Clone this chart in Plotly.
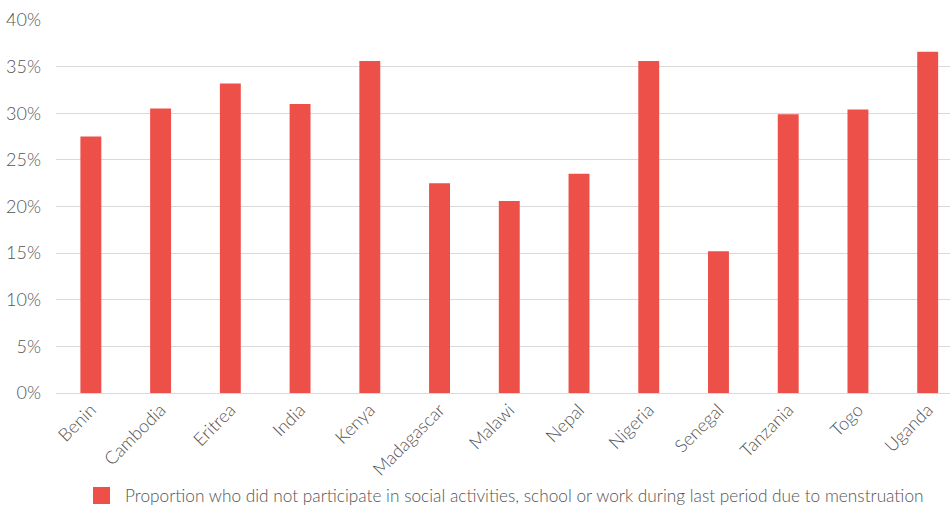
import plotly.graph_objects as go

countries = ["Benin", "Cambodia", "Eritrea", "India", "Kenya", "Madagascar", "Malawi",
             "Nepal", "Nigeria", "Senegal", "Tanzania", "Togo", "Uganda"]
share_pct = [27.5, 30.5, 33.2, 31.0, 35.6, 22.5, 20.6, 23.5, 35.6, 15.2, 29.9, 30.4, 36.6]
series_name = ("Proportion who did not participate in social activities, school or work "
               "during last period due to menstruation")
y_ticks = [0, 5, 10, 15, 20, 25, 30, 35, 40]
y_tick_text = [f"{v}%" for v in y_ticks]

bar_color = "#EC5048"
text_color = "#555555"
grid_color = "#D9D9D9"
font_family = "Lato, 'Open Sans', sans-serif"

fig = go.Figure(go.Bar(
    x=countries,
    y=share_pct,
    name=series_name,
    marker=dict(color=bar_color, line=dict(width=0)),
    showlegend=False,
))

fig.update_layout(
    width=950,
    height=506,
    margin=dict(l=56, r=0, t=20, b=113, pad=0, autoexpand=False),
    paper_bgcolor="white",
    plot_bgcolor="white",
    bargap=0.7,
    font=dict(family=font_family, size=16, color=text_color, weight=300),
)

# legend: swatch + label drawn below the axis
fig.add_shape(
    type="rect", xref="paper", yref="paper",
    x0=(93 - 56) / 894, x1=(110 - 56) / 894,
    y0=-(504 - 393) / 373, y1=-(487 - 393) / 373,
    fillcolor=bar_color, line=dict(width=0),
)
fig.add_annotation(
    text=series_name, xref="paper", yref="paper",
    x=(123 - 56) / 894, xanchor="left",
    y=-(495.5 - 393) / 373, yanchor="middle",
    showarrow=False,
    font=dict(family=font_family, size=17.25, color=text_color, weight=300),
)

fig.update_xaxes(
    range=[-0.5, 12.32],
    tickangle=-45,
    showgrid=False,
    showline=False,
    ticks="",
    automargin=False,
    ticklabelstandoff=2,
    tickfont=dict(size=18, color=text_color, weight=300),
)
fig.update_yaxes(
    range=[0, 40],
    tickmode="array",
    tickvals=y_ticks,
    ticktext=y_tick_text,
    showgrid=True,
    gridcolor=grid_color,
    gridwidth=1,
    zeroline=True,
    zerolinecolor=grid_color,
    zerolinewidth=1,
    ticks="",
    automargin=False,
    ticklabelstandoff=14,
    tickfont=dict(size=18, color=text_color, weight=300),
)

fig.write_html("out.html")
